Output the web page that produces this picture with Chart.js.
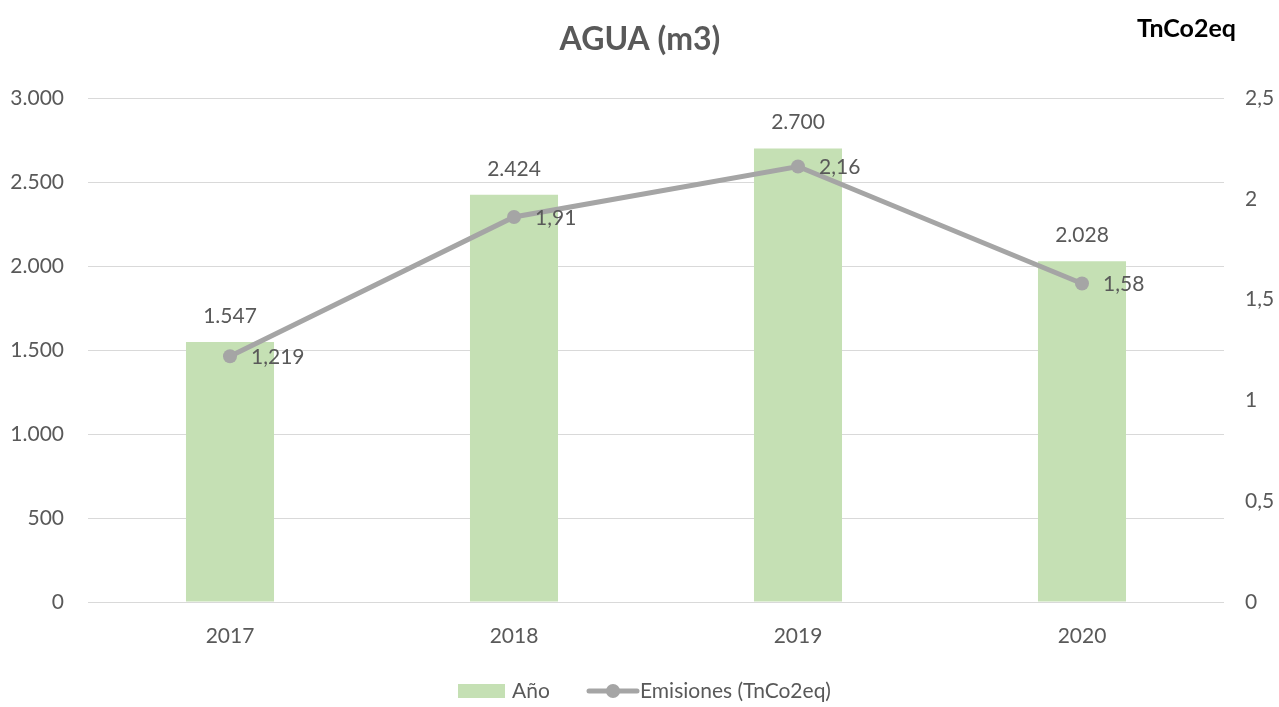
<!DOCTYPE html>
<html><head><meta charset="utf-8">
<script src="https://cdn.jsdelivr.net/npm/chart.js@4.4.1/dist/chart.umd.min.js"></script>
<style>html,body{margin:0;padding:0;background:#fff;}canvas{display:block;}</style>
</head><body>
<canvas id="c" width="1279" height="707"></canvas>
<script>
const categories = ['2017','2018','2019','2020'];
const aguaValues = [1547, 2424, 2700, 2028];
const emisionesValues = [1.219, 1.91, 2.16, 1.58];
const emisionesLabels = ['1,219','1,91','2,16','1,58'];
const leftTicks = [0, 500, 1000, 1500, 2000, 2500, 3000];
const rightTicks = [0, 0.5, 1, 1.5, 2, 2.5];

const FONT = 'Lato, "Open Sans", sans-serif';
const TXT = '#595959';
const FS = 21;
const fmtThousands = v => String(v).replace(/\B(?=(\d{3})+(?!\d))/g, '.');
const fmtComma = v => String(v).replace('.', ',');

const overlay = {
  id: 'overlay',
  afterDatasetsDraw(chart) {
    const ctx = chart.ctx;
    ctx.save();
    ctx.fillStyle = TXT;
    ctx.font = FS + 'px ' + FONT;
    const bm = chart.getDatasetMeta(1);
    ctx.textAlign = 'center'; ctx.textBaseline = 'middle';
    bm.data.forEach((el, i) => ctx.fillText(fmtThousands(aguaValues[i]), el.x, el.y - 26));
    const lm = chart.getDatasetMeta(0);
    ctx.textAlign = 'left';
    lm.data.forEach((el, i) => ctx.fillText(emisionesLabels[i], el.x + 21, el.y + 1));
    ctx.restore();
  },
  afterDraw(chart) {
    const ctx = chart.ctx;
    ctx.save();
    ctx.fillStyle = TXT; ctx.font = 'bold 32px ' + FONT;
    ctx.textAlign = 'center'; ctx.textBaseline = 'middle';
    ctx.fillText('AGUA (m3)', 640, 40);
    ctx.fillStyle = '#000'; ctx.font = 'bold 25px ' + FONT;
    ctx.textAlign = 'left';
    ctx.fillText('TnCo2eq', 1137, 29);
    const ly = 691;
    ctx.fillStyle = '#c5e0b4';
    ctx.fillRect(458, ly - 7, 47, 14);
    ctx.fillStyle = TXT; ctx.font = FS + 'px ' + FONT; ctx.textBaseline = 'middle';
    ctx.fillText('Año', 512, ly);
    ctx.strokeStyle = '#a5a5a5'; ctx.lineWidth = 5; ctx.lineCap = 'round';
    ctx.beginPath(); ctx.moveTo(589, ly); ctx.lineTo(637, ly); ctx.stroke();
    ctx.fillStyle = '#a5a5a5';
    ctx.beginPath(); ctx.arc(613, ly, 7, 0, Math.PI * 2); ctx.fill();
    ctx.fillStyle = TXT;
    ctx.fillText('Emisiones (TnCo2eq)', 640, ly);
    ctx.restore();
  }
};

new Chart(document.getElementById('c'), {
  data: {
    labels: categories,
    datasets: [
      {
        type: 'line', label: 'Emisiones (TnCo2eq)', data: emisionesValues, yAxisID: 'y1',
        borderColor: '#a5a5a5', backgroundColor: '#a5a5a5', borderWidth: 5,
        pointRadius: 7, pointHoverRadius: 7, pointBackgroundColor: '#a5a5a5', pointBorderWidth: 0,
        tension: 0, order: 0
      },
      {
        type: 'bar', label: 'Año', data: aguaValues, yAxisID: 'y',
        backgroundColor: '#c5e0b4', borderWidth: 0,
        categoryPercentage: 1, barPercentage: 0.31, order: 1
      }
    ]
  },
  options: {
    responsive: false, animation: false, devicePixelRatio: 1,
    layout: { padding: { top: 98, bottom: 0, left: 0, right: 0 } },
    plugins: { legend: { display: false }, title: { display: false }, tooltip: { enabled: false } },
    scales: {
      x: {
        grid: { display: false, drawTicks: false }, border: { display: false },
        ticks: { color: TXT, font: { family: FONT, size: FS }, padding: 22 },
        afterFit(s) { s.height = 105; }
      },
      y: {
        position: 'left', min: 0, max: 3000,
        afterBuildTicks(s) { s.ticks = leftTicks.map(v => ({ value: v })); },
        grid: { color: '#d9d9d9', lineWidth: 1, drawTicks: false }, border: { display: false },
        ticks: { color: TXT, font: { family: FONT, size: FS }, padding: 24, callback: v => fmtThousands(v) },
        afterFit(s) { s.width = 88; }
      },
      y1: {
        position: 'right', min: 0, max: 2.5,
        afterBuildTicks(s) { s.ticks = rightTicks.map(v => ({ value: v })); },
        grid: { display: false, drawTicks: false }, border: { display: false },
        ticks: { color: TXT, font: { family: FONT, size: FS }, padding: 21, callback: v => fmtComma(v) },
        afterFit(s) { s.width = 55; }
      }
    }
  },
  plugins: [overlay]
});
</script>
</body></html>
